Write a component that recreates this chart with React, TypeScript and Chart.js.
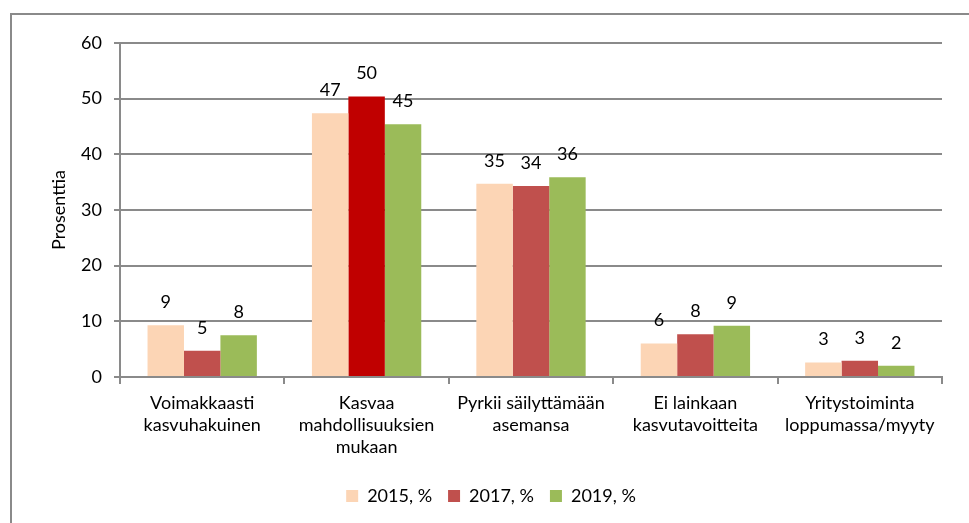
import React, { useEffect, useRef } from "react";
import { Chart, registerables } from "chart.js";

Chart.register(...registerables);

const categories: string[][] = [
  ["Voimakkaasti", "kasvuhakuinen"],
  ["Kasvaa", "mahdollisuuksien", "mukaan"],
  ["Pyrkii säilyttämään", "asemansa"],
  ["Ei lainkaan", "kasvutavoitteita"],
  ["Yritystoiminta", "loppumassa/myyty"],
];
const seriesNames = ["2015, %", "2017, %", "2019, %"];
const values2015 = [9.3, 47.4, 34.7, 6.0, 2.6];
const values2017 = [4.7, 50.4, 34.3, 7.7, 2.9];
const values2019 = [7.5, 45.4, 35.9, 9.2, 2.0];
const labels2015 = ["9", "47", "35", "6", "3"];
const labels2017 = ["5", "50", "34", "8", "3"];
const labels2019 = ["8", "45", "36", "9", "2"];
const yTicks = [0, 10, 20, 30, 40, 50, 60];

const FONT = "Lato, 'Open Sans', sans-serif";
const GRID = "#8a8a8a";

const valueLabelPlugin = {
  id: "valueLabels",
  afterDatasetsDraw(chart: any) {
    const ctx = chart.ctx;
    const all = [labels2015, labels2017, labels2019];
    ctx.save();
    ctx.font = `18px ${FONT}`;
    ctx.fillStyle = "#000";
    ctx.textAlign = "center";
    ctx.textBaseline = "middle";
    chart.data.datasets.forEach((ds: any, di: number) => {
      const meta = chart.getDatasetMeta(di);
      meta.data.forEach((bar: any, i: number) => {
        ctx.fillText(all[di][i], bar.x, bar.y - 23);
      });
    });
    ctx.restore();
  },
};

const frameBorderPlugin = {
  id: "frameBorder",
  beforeDraw(chart: any) {
    const ctx = chart.ctx;
    ctx.save();
    ctx.fillStyle = "#fff";
    ctx.fillRect(0, 0, chart.width, chart.height);
    ctx.strokeStyle = GRID;
    ctx.lineWidth = 2;
    ctx.strokeRect(11, 14, chart.width + 20, chart.height + 20);
    ctx.restore();
  },
};

export default function App() {
  const ref = useRef<HTMLCanvasElement>(null);

  useEffect(() => {
    if (!ref.current) return;
    const chart = new Chart(ref.current, {
      type: "bar",
      data: {
        labels: categories,
        datasets: [
          {
            label: seriesNames[0],
            data: values2015,
            backgroundColor: "#FCD5B5",
          },
          {
            label: seriesNames[1],
            data: values2017,
            backgroundColor: values2017.map((_, i) => (i === 1 ? "#C00000" : "#C0504D")),
          },
          {
            label: seriesNames[2],
            data: values2019,
            backgroundColor: "#9BBB59",
          },
        ],
      },
      options: {
        responsive: false,
        animation: false,
        events: [],
        layout: { padding: { left: 40, right: 27, top: 43, bottom: 8 } },
        datasets: {
          bar: { categoryPercentage: 0.665, barPercentage: 1 },
        },
        scales: {
          x: {
            afterFit: (s: any) => {
              s.height = 94;
            },
            grid: {
              display: true,
              drawOnChartArea: false,
              drawTicks: true,
              tickLength: 7,
              offset: true,
              color: GRID,
              lineWidth: 2,
            },
            border: { display: true, color: GRID, width: 2 },
            ticks: {
              color: "#000",
              font: { family: FONT, size: 18, lineHeight: 1.22 },
              padding: 8,
              maxRotation: 0,
              autoSkip: false,
            },
          },
          y: {
            min: 0,
            max: 60,
            afterFit: (s: any) => {
              s.width = 80;
            },
            afterBuildTicks: (s: any) => {
              s.ticks = yTicks.map((v) => ({ value: v }));
            },
            grid: {
              color: GRID,
              lineWidth: 2,
              tickLength: 6,
              drawTicks: true,
            },
            border: { display: true, color: GRID, width: 2 },
            ticks: {
              color: "#000",
              font: { family: FONT, size: 18 },
              padding: 12,
            },
            title: {
              display: true,
              text: "Prosenttia",
              color: "#000",
              font: { family: FONT, size: 18 },
              padding: { top: 8, bottom: 0 },
            },
          },
        },
        plugins: {
          legend: {
            position: "bottom",
            labels: {
              color: "#000",
              font: { family: FONT, size: 18 },
              boxWidth: 12,
              boxHeight: 12,
              padding: 16,
            },
          },
          tooltip: { enabled: false },
        },
      },
      plugins: [frameBorderPlugin, valueLabelPlugin],
    });
    return () => chart.destroy();
  }, []);

  return (
    <div style={{ position: "fixed", left: 0, top: 0, width: 969, height: 523 }}>
      <canvas ref={ref} width={969} height={523} />
    </div>
  );
}
